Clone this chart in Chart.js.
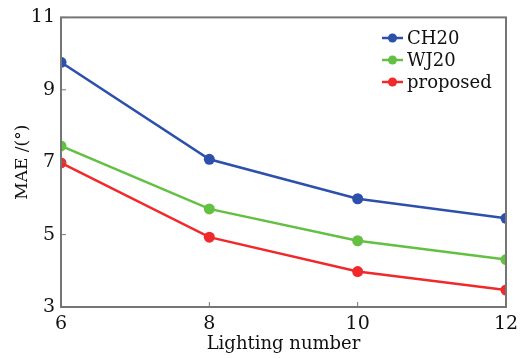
<!DOCTYPE html>
<html>
<head>
<meta charset="utf-8">
<script src="https://cdn.jsdelivr.net/npm/chart.js@4"></script>
<style>
  html, body { margin: 0; padding: 0; background: #fff; }
  #wrap { width: 527px; height: 359px; }
</style>
</head>
<body>
<div id="wrap"><canvas id="maeChart"></canvas></div>
<script>
// data
var lightingNumbers = [6, 8, 10, 12];
var ch20 = [9.76, 7.08, 5.99, 5.45];
var wj20 = [7.45, 5.71, 4.83, 4.31];
var proposed = [6.98, 4.93, 3.98, 3.47];
var seriesNames = ['CH20', 'WJ20', 'proposed'];
var yTicks = [3, 5, 7, 9, 11];

var serif = 'DejaVu Serif';
var axisGray = '#757575';

function toPoints(vals) {
  return vals.map(function (v, i) { return { x: lightingNumbers[i], y: v }; });
}

// frame, inward ticks and legend inside the plot
var framePlugin = {
  id: 'frame',
  afterDraw: function (chart) {
    var c = chart.ctx, a = chart.chartArea;
    var xs = chart.scales.x, ys = chart.scales.y;
    c.save();
    c.strokeStyle = axisGray;
    c.lineWidth = 2;
    c.strokeRect(a.left, a.top, a.right - a.left, a.bottom - a.top);
    c.lineWidth = 1;
    lightingNumbers.forEach(function (v) {
      var px = xs.getPixelForValue(v);
      c.beginPath(); c.moveTo(px, a.bottom); c.lineTo(px, a.bottom - 5); c.stroke();
    });
    yTicks.forEach(function (v) {
      var py = ys.getPixelForValue(v);
      c.beginPath(); c.moveTo(a.left, py); c.lineTo(a.left + 5, py); c.stroke();
    });

    // legend
    var lx = 382, ly = 38, step = 22;
    c.font = '18px "' + serif + '"';
    c.textBaseline = 'middle';
    chart.data.datasets.forEach(function (ds, i) {
      var y = ly + i * step;
      c.strokeStyle = ds.borderColor;
      c.lineWidth = 2.5;
      c.beginPath(); c.moveTo(lx, y); c.lineTo(lx + 21, y); c.stroke();
      c.fillStyle = ds.borderColor;
      c.beginPath(); c.arc(lx + 10.5, y, 4.5, 0, Math.PI * 2); c.fill();
      c.fillStyle = '#111';
      c.fillText(ds.label, lx + 25, y + 1);
    });
    c.restore();
  }
};

var ctx = document.getElementById('maeChart').getContext('2d');

var myChart = new Chart(ctx, {
  type: 'line',
  data: {
    datasets: [
      { label: seriesNames[0], data: toPoints(ch20), borderColor: '#2c50ac', backgroundColor: '#2c50ac' },
      { label: seriesNames[1], data: toPoints(wj20), borderColor: '#64c043', backgroundColor: '#64c043' },
      { label: seriesNames[2], data: toPoints(proposed), borderColor: '#f0292b', backgroundColor: '#f0292b' }
    ]
  },
  options: {
    responsive: true,
    maintainAspectRatio: false,
    animation: false,
    layout: { padding: { left: 0, right: 21, top: 16, bottom: 0 } },
    elements: {
      line: { borderWidth: 2.5, tension: 0 },
      point: { radius: 5.5, borderWidth: 0 }
    },
    plugins: {
      legend: { display: false },
      tooltip: { enabled: false }
    },
    scales: {
      x: {
        type: 'linear',
        min: 6,
        max: 12,
        afterBuildTicks: function (scale) {
          scale.ticks = lightingNumbers.map(function (v) { return { value: v }; });
        },
        afterFit: function (scale) { scale.height = 52; },
        grid: { display: false, drawTicks: false },
        border: { display: false },
        ticks: { color: '#111', padding: 6, font: { family: serif, size: 19 } },
        title: {
          display: true,
          text: 'Lighting number',
          color: '#111',
          padding: { top: 0, bottom: 4 },
          font: { family: serif, size: 18 }
        }
      },
      y: {
        min: 3,
        max: 11,
        afterBuildTicks: function (scale) {
          scale.ticks = yTicks.map(function (v) { return { value: v }; });
        },
        afterFit: function (scale) { scale.width = 61; },
        grid: { display: false, drawTicks: false },
        border: { display: false },
        ticks: { color: '#111', padding: 6, font: { family: serif, size: 19 } },
        title: {
          display: true,
          text: 'MAE /(°)',
          color: '#111',
          padding: { top: 12, bottom: 0 },
          font: { family: serif, size: 17 }
        }
      }
    }
  },
  plugins: [framePlugin]
});
</script>
</body>
</html>
